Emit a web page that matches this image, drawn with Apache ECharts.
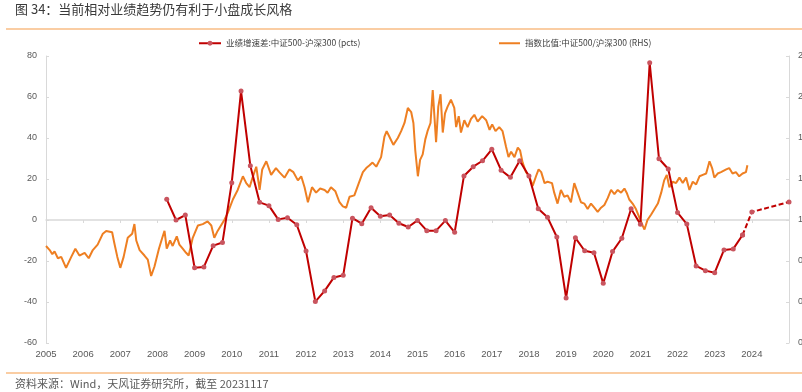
<!DOCTYPE html>
<html>
<head>
<meta charset="utf-8">
<script src="https://cdn.jsdelivr.net/npm/echarts@6/dist/echarts.min.js"></script>
<style>
html,body{margin:0;padding:0;background:#fff;}
#chart{width:802px;height:392px;}
</style>
</head>
<body>
<div id="chart"></div>
<script>
// ---- data ----
const titleText = '图 34：当前相对业绩趋势仍有利于小盘成长风格';
const sourceText = '资料来源：Wind，天风证券研究所，截至 20231117';
const seriesNames = ['业绩增速差:中证500-沪深300 (pcts)', '指数比值:中证500/沪深300 (RHS)'];
const forecastName = '预测';

const yearTicks = [2005,2006,2007,2008,2009,2010,2011,2012,2013,2014,2015,2016,2017,2018,2019,2020,2021,2022,2023,2024];

// quarterly earnings growth spread (pcts)
const redPeriods = [
 '2008Q1','2008Q2','2008Q3','2008Q4','2009Q1','2009Q2','2009Q3','2009Q4',
 '2010Q1','2010Q2','2010Q3','2010Q4','2011Q1','2011Q2','2011Q3','2011Q4',
 '2012Q1','2012Q2','2012Q3','2012Q4','2013Q1','2013Q2','2013Q3','2013Q4',
 '2014Q1','2014Q2','2014Q3','2014Q4','2015Q1','2015Q2','2015Q3','2015Q4',
 '2016Q1','2016Q2','2016Q3','2016Q4','2017Q1','2017Q2','2017Q3','2017Q4',
 '2018Q1','2018Q2','2018Q3','2018Q4','2019Q1','2019Q2','2019Q3','2019Q4',
 '2020Q1','2020Q2','2020Q3','2020Q4','2021Q1','2021Q2','2021Q3','2021Q4',
 '2022Q1','2022Q2','2022Q3','2022Q4','2023Q1','2023Q2','2023Q3'];
const redValues = [
 10.1, 0.0, 2.4, -23.3, -22.9, -12.5, -11.0, 18.2,
 62.9, 26.5, 8.6, 7.0, 0.3, 1.1, -2.3, -15.1,
 -39.8, -34.6, -28.0, -27.0, 0.9, -1.8, 6.0, 1.8,
 2.4, -1.6, -3.4, -0.2, -5.2, -5.2, -0.3, -6.0,
 21.5, 26.0, 28.9, 34.5, 24.3, 20.8, 28.9, 21.5,
 5.5, 1.3, -8.3, -38.0, -8.7, -15.0, -16.0, -30.9,
 -15.4, -8.9, 5.5, -2.1, 76.7, 29.9, 24.9, 3.6,
 -2.0, -22.4, -24.7, -25.7, -14.6, -14.1, -7.3];
// forecast (dashed)
const fcPeriods = ['2023Q3','2023Q4','2024Q4'];
const fcValues = [-7.3, 3.9, 8.8];

// CSI500 / CSI300 ratio (RHS)
const ratioT = [
 2005.00,2005.10,2005.17,2005.23,2005.32,2005.41,2005.54,2005.68,2005.79,2005.90,
 2006.04,2006.15,2006.26,2006.39,2006.53,2006.62,2006.78,2006.84,2006.92,2007.00,
 2007.09,2007.20,2007.32,2007.38,2007.43,2007.52,2007.65,2007.74,2007.83,2007.92,
 2008.04,2008.13,2008.19,2008.25,2008.34,2008.41,2008.52,2008.59,2008.68,2008.77,
 2008.84,2008.95,2009.09,2009.22,2009.35,2009.45,2009.53,2009.62,2009.71,2009.80,
 2009.89,2010.03,2010.16,2010.30,2010.39,2010.48,2010.56,2010.66,2010.75,2010.82,
 2010.93,2011.06,2011.19,2011.28,2011.42,2011.55,2011.66,2011.78,2011.87,2011.96,
 2012.05,2012.16,2012.27,2012.38,2012.50,2012.58,2012.67,2012.79,2012.90,2012.99,
 2013.08,2013.17,2013.30,2013.42,2013.53,2013.62,2013.71,2013.79,2013.89,2014.02,
 2014.11,2014.17,2014.26,2014.35,2014.47,2014.56,2014.65,2014.74,2014.83,2014.89,
 2014.94,2015.01,2015.07,2015.14,2015.21,2015.27,2015.35,2015.41,2015.45,2015.50,
 2015.56,2015.62,2015.68,2015.74,2015.81,2015.90,2015.99,2016.04,2016.11,2016.17,
 2016.26,2016.35,2016.44,2016.53,2016.62,2016.74,2016.85,2016.94,2017.01,2017.10,
 2017.20,2017.29,2017.38,2017.45,2017.52,2017.61,2017.70,2017.76,2017.83,2017.92,
 2018.01,2018.10,2018.19,2018.26,2018.33,2018.42,2018.50,2018.62,2018.68,2018.77,
 2018.86,2018.95,2019.04,2019.13,2019.22,2019.31,2019.40,2019.49,2019.58,2019.67,
 2019.76,2019.85,2019.94,2020.03,2020.12,2020.21,2020.30,2020.39,2020.48,2020.57,
 2020.63,2020.70,2020.79,2020.88,2020.97,2021.06,2021.11,2021.19,2021.29,2021.38,
 2021.47,2021.56,2021.64,2021.71,2021.78,2021.87,2021.96,2022.05,2022.14,2022.23,
 2022.32,2022.41,2022.50,2022.59,2022.68,2022.77,2022.86,2022.93,2022.99,2023.08,
 2023.17,2023.31,2023.39,2023.48,2023.57,2023.66,2023.75,2023.84,2023.88];
const ratioV = [
 1.01,0.98,0.95,0.97,0.92,0.93,0.85,0.93,0.99,0.94,
 0.96,0.92,0.98,1.02,1.10,1.12,1.11,1.03,0.93,0.85,
 0.93,1.07,1.10,1.17,1.05,0.98,0.94,0.91,0.79,0.86,
 0.99,1.07,1.12,0.99,1.05,1.01,1.08,1.02,0.99,0.96,
 0.94,1.07,1.16,1.17,1.19,1.16,1.07,1.12,1.16,1.20,
 1.25,1.35,1.42,1.52,1.47,1.44,1.51,1.59,1.42,1.57,
 1.63,1.53,1.58,1.55,1.51,1.57,1.55,1.49,1.52,1.44,
 1.33,1.44,1.40,1.43,1.42,1.40,1.44,1.41,1.33,1.30,
 1.29,1.37,1.38,1.47,1.55,1.58,1.60,1.62,1.59,1.66,
 1.81,1.85,1.80,1.75,1.80,1.85,1.91,2.02,1.99,1.91,
 1.71,1.52,1.64,1.68,1.79,1.85,1.91,2.15,2.16,1.77,
 2.03,2.12,1.84,1.98,2.03,2.08,2.02,1.88,1.96,1.84,
 1.93,1.88,1.94,1.97,1.92,1.96,1.93,1.86,1.90,1.85,
 1.88,1.85,1.74,1.66,1.70,1.66,1.73,1.71,1.62,1.55,
 1.52,1.45,1.52,1.57,1.55,1.47,1.48,1.47,1.40,1.32,
 1.42,1.37,1.38,1.33,1.47,1.40,1.33,1.32,1.28,1.32,
 1.29,1.26,1.29,1.31,1.36,1.42,1.39,1.42,1.40,1.43,
 1.40,1.35,1.32,1.28,1.22,1.16,1.13,1.20,1.24,1.28,
 1.32,1.40,1.49,1.53,1.44,1.48,1.47,1.51,1.47,1.51,
 1.42,1.48,1.46,1.52,1.53,1.54,1.63,1.58,1.51,1.54,
 1.55,1.57,1.58,1.54,1.55,1.52,1.54,1.55,1.60];

// ---- build ----
function quarterX(p){ const y = +p.slice(0,4), q = +p.slice(5); return y + q*0.25; }
const redData = redPeriods.map((p,i)=>[quarterX(p), redValues[i]]);
const fcData = fcPeriods.map((p,i)=>[quarterX(p), fcValues[i]]);
const ratioData = ratioT.map((t,i)=>[t, ratioV[i]]);

const axisGray = '#d9d9d9';
const labelGray = '#595959';
const numFont = '"Liberation Sans", Arial, sans-serif';
const cjkFont = '"Noto Sans CJK SC", "Noto Sans", sans-serif';
const RED = '#c00000', RED_MK = '#c9555f', ORANGE = '#ee7f22';

const chart = echarts.init(document.getElementById('chart'), null, {renderer:'canvas'});
chart.setOption({
  animation: false,
  backgroundColor: '#fff',
  textStyle: {fontFamily: cjkFont},
  title: [
    {text: titleText, left: 15, top: 1, padding: 0,
     textStyle: {fontSize: 13, fontWeight: 'normal', color: '#3a3a3a', fontFamily: cjkFont, lineHeight: 16}},
    {text: sourceText, left: 15, top: 377, padding: 0,
     textStyle: {fontSize: 11, fontWeight: 'normal', color: '#595959', fontFamily: cjkFont, lineHeight: 14}}
  ],
  graphic: [
    {type: 'line', shape: {x1: 6, y1: 29, x2: 802, y2: 29}, style: {stroke: '#f8bd84', lineWidth: 1.5}, silent: true},
    {type: 'line', shape: {x1: 6, y1: 373, x2: 802, y2: 373}, style: {stroke: '#f8bd84', lineWidth: 1.5}, silent: true}
  ],
  legend: [
    {data: [seriesNames[0]], left: 198, top: 39, itemWidth: 22, itemHeight: 6, itemGap: 0, padding: 0,
     textStyle: {fontSize: 8.5, color: '#404040', fontFamily: cjkFont}},
    {data: [{name: seriesNames[1], icon: 'rect'}], left: 499, top: 39, itemWidth: 21, itemHeight: 2, itemGap: 0, padding: 0,
     textStyle: {fontSize: 8.5, color: '#404040', fontFamily: cjkFont, lineHeight: 6}}
  ],
  grid: {left: 46, right: 13, top: 56, bottom: 49, containLabel: false, outerBoundsMode: 'none'},
  xAxis: [
    {type: 'value', min: 2005, max: 2025, interval: 1, position: 'bottom',
     axisLine: {show: false, onZero: false}, axisTick: {show: false}, splitLine: {show: false},
     axisLabel: {margin: 6, fontSize: 9.5, color: labelGray, fontFamily: numFont,
       formatter: v => (yearTicks.indexOf(v) >= 0 ? String(v) : '')}},
    {type: 'value', min: 2005, max: 2025, interval: 1, position: 'bottom',
     axisLine: {show: true, onZero: true, onZeroAxisIndex: 0, lineStyle: {color: axisGray, width: 1.5}},
     axisTick: {show: true, inside: false, length: 3, lineStyle: {color: axisGray}},
     axisLabel: {show: false}, splitLine: {show: false}}
  ],
  yAxis: [
    {type: 'value', min: -60, max: 80, interval: 20, position: 'left',
     axisLine: {show: true, lineStyle: {color: axisGray}},
     axisTick: {show: true, inside: true, length: 3, lineStyle: {color: axisGray}},
     axisLabel: {margin: 9, fontSize: 9, color: labelGray, fontFamily: numFont},
     splitLine: {show: false}},
    {type: 'value', min: 0.3, max: 2.4, interval: 0.3, position: 'right',
     axisLine: {show: true, lineStyle: {color: axisGray}},
     axisTick: {show: true, inside: true, length: 3, lineStyle: {color: axisGray}},
     axisLabel: {margin: 9, fontSize: 9, color: labelGray, fontFamily: numFont,
       formatter: v => v.toFixed(1)},
     splitLine: {show: false}}
  ],
  series: [
    {name: seriesNames[1], type: 'line', xAxisIndex: 0, yAxisIndex: 1, data: ratioData,
     showSymbol: false, symbol: 'none', lineStyle: {color: ORANGE, width: 2}, itemStyle: {color: ORANGE}, z: 2},
    {name: forecastName, type: 'line', xAxisIndex: 0, yAxisIndex: 0, data: fcData,
     symbol: 'circle', symbolSize: 5, lineStyle: {color: RED, width: 2, type: [5, 2.5]},
     itemStyle: {color: RED_MK}, z: 3},
    {name: seriesNames[0], type: 'line', xAxisIndex: 0, yAxisIndex: 0, data: redData,
     symbol: 'circle', symbolSize: 5, lineStyle: {color: RED, width: 2},
     itemStyle: {color: RED_MK}, z: 4}
  ]
});
</script>
</body>
</html>
